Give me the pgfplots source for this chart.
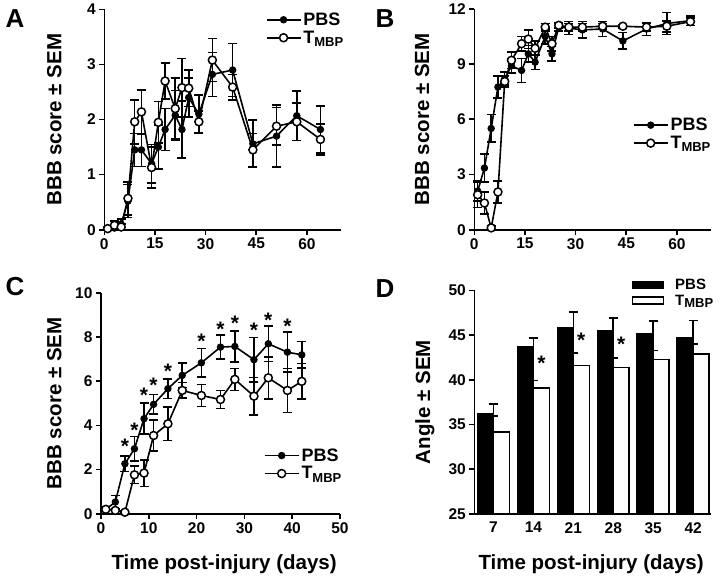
\documentclass[border=0pt]{standalone}
\usepackage{fontspec}
\setmainfont{Liberation Sans}
\usepackage{pgfplots}
\pgfplotsset{compat=1.18}

\newcommand{\tmbp}{T\raisebox{-0.35ex}{\fontsize{13}{13}\selectfont MBP}}
\newcommand{\labfont}{\fontsize{20.5}{21}\selectfont\bfseries}

\pgfplotsset{
  panel/.style={
    scale only axis,
    axis lines=left,
    axis line style={-, line width=1.6pt},
    tick align=outside,
    major tick length=5pt,
    every tick/.style={line width=1.6pt, black},
    tick label style={font=\fontsize{15.5}{15.5}\selectfont\bfseries},
    /pgf/number format/assume math mode=true,
    every axis y label/.style={at={(axis description cs:-0.21,0.5)}, rotate=90, anchor=center, font=\labfont},
    legend style={draw=none, fill=none, font=\fontsize{18}{21}\selectfont\bfseries, inner sep=0pt, row sep=0pt},
    legend cell align=left,
    legend image code/.code={\draw[##1, mark repeat=2, mark phase=2] plot coordinates {(0pt,0pt) (17pt,0pt) (34pt,0pt)};},
    clip=false,
  },
  errs/.style={
    error bars/y dir=both, error bars/y explicit,
    error bars/error bar style={line width=1.6pt, black},
    error bars/error mark options={rotate=90, mark size=4.5pt, line width=1.6pt, black},
  },
  pbs/.style={black, line width=1.6pt, mark=*, mark size=3.2pt, mark options={solid, fill=black, line width=1pt}, errs},
  tm/.style={black, line width=1.6pt, mark=*, mark size=4pt, mark options={solid, fill=white, line width=1.5pt}, errs},
  stars/.style={draw=none, mark=none, forget plot, nodes near coords={*},
    every node near coord/.append style={font=\fontsize{21}{21}\selectfont\bfseries, anchor=center, yshift=-3.5pt, inner sep=0pt}},
}

\begin{document}
\begin{tikzpicture}[x=1pt,y=1pt]
\path (0,0) rectangle (720,575);

% Panel A
\begin{axis}[panel, at={(104.3pt,345.7pt)}, anchor=south west,
  width=236.4pt, height=220.3pt, xmin=0, xmax=70, ymin=0, ymax=4,
  xtick={0,15,30,45,60}, ytick={0,1,2,3,4},
  ylabel={BBB score ± SEM},
  every axis y label/.append style={at={(axis description cs:-0.211,0.5)}},
  legend style={at={(1.02,0.995)}, anchor=north east}]
\addplot[pbs] coordinates {
(1,0.03) +- (0,0.03) (3,0.03) +- (0,0.03) (5,0.1) +- (0,0.1) (7,0.52) +- (0,0.3)
(9,1.45) +- (0,0.3) (11,1.45) +- (0,0.3) (14,1.2) +- (0,0.35) (16,1.5) +- (0,0.4)
(18,1.82) +- (0,0.38) (21,2.08) +- (0,0.45) (23,1.82) +- (0,0.52) (25,2.4) +- (0,0.35)
(28,2.1) +- (0,0.35) (32,2.82) +- (0,0.4) (38,2.9) +- (0,0.48) (44,1.56) +- (0,0.43)
(51,1.7) +- (0,0.56) (57,2.07) +- (0,0.45) (64,1.82) +- (0,0.43)};
\addplot[tm] coordinates {
(1,0.02) +- (0,0.02) (3,0.08) +- (0,0.08) (5,0.05) +- (0,0.05) (7,0.57) +- (0,0.3)
(9,1.96) +- (0,0.4) (11,2.14) +- (0,0.4) (14,1.13) +- (0,0.37) (16,1.95) +- (0,0.38)
(18,2.7) +- (0,0.33) (21,2.2) +- (0,0.55) (23,2.58) +- (0,0.53) (25,2.57) +- (0,0.33)
(28,1.96) +- (0,0.2) (32,3.08) +- (0,0.39) (38,2.59) +- (0,0.23) (44,1.45) +- (0,0.3)
(51,1.88) +- (0,0.34) (57,1.96) +- (0,0.34) (64,1.64) +- (0,0.28)};
\legend{PBS, \tmbp}
\end{axis}

% Panel B
\begin{axis}[panel, at={(474.3pt,345.7pt)}, anchor=south west,
  width=236.4pt, height=221pt, xmin=0, xmax=70, ymin=0, ymax=12,
  xtick={0,15,30,45,60}, ytick={0,3,6,9,12},
  ylabel={BBB score ± SEM},
  every axis y label/.append style={at={(axis description cs:-0.221,0.5)}},
  legend style={at={(1.008,0.515)}, anchor=north east}]
\addplot[pbs] coordinates {
(1,2.1) +- (0,0.55) (3,3.35) +- (0,0.75) (5,5.5) +- (0,0.75) (7,7.75) +- (0,0.6)
(9,8.2) +- (0,0.35) (11,8.9) +- (0,0.4) (14,8.65) +- (0,0.65) (16,9.55) +- (0,0.45)
(18,9.1) +- (0,0.4) (21,10.5) +- (0,0.4) (23,9.55) +- (0,0.4) (25,11.0) +- (0,0.2)
(28,10.95) +- (0,0.35) (32,10.85) +- (0,0.45) (38,10.9) +- (0,0.4) (44,10.25) +- (0,0.45)
(51,10.9) +- (0,0.35) (57,11.2) +- (0,0.6) (64,11.35) +- (0,0.25)};
\addplot[tm] coordinates {
(1,1.9) +- (0,0.7) (3,1.45) +- (0,0.6) (5,0.1) +- (0,0.1) (7,2.05) +- (0,0.6)
(9,8.05) +- (0,0.3) (11,9.2) +- (0,0.45) (14,10.1) +- (0,0.4) (16,10.35) +- (0,0.5)
(18,9.85) +- (0,0.4) (21,11.0) +- (0,0.2) (23,10.1) +- (0,0.4) (25,11.1) +- (0,0.15)
(28,11.0) +- (0,0.2) (32,11.0) +- (0,0.2) (38,11.05) +- (0,0.15) (44,11.05) +- (0,0.1)
(51,11.0) +- (0,0.2) (57,11.05) +- (0,0.3) (64,11.3) +- (0,0.2)};
\legend{PBS, \tmbp}
\end{axis}

% Panel C
\begin{axis}[panel, at={(101pt,61.7pt)}, anchor=south west,
  width=239pt, height=221pt, xmin=0, xmax=50, ymin=0, ymax=10,
  xtick={0,10,20,30,40,50}, ytick={0,2,4,6,8,10},
  ylabel={BBB score ± SEM},
  every axis y label/.append style={at={(axis description cs:-0.195,0.5)}},
  xlabel={Time post-injury (days)},
  every axis x label/.style={at={(axis description cs:0.515,0)}, anchor=base, yshift=-55.7pt, font=\labfont},
  legend style={at={(1.015,0.305)}, anchor=north east}]
\addplot[pbs] coordinates {
(1,0.2) +- (0,0.05) (3,0.53) +- (0,0.3) (5,2.26) +- (0,0.35) (7,2.94) +- (0,0.55)
(9,4.3) +- (0,0.7) (11,4.95) +- (0,0.45) (14,5.66) +- (0,0.45) (17,6.26) +- (0,0.55)
(21,6.83) +- (0,0.65) (25,7.54) +- (0,0.55) (28,7.57) +- (0,0.7) (32,6.97) +- (0,1.0)
(35,7.69) +- (0,0.8) (39,7.31) +- (0,0.9) (42,7.19) +- (0,0.6)};
\addplot[tm] coordinates {
(1,0.2) +- (0,0.05) (3,0.15) +- (0,0.05) (5,0.07) +- (0,0.05) (7,1.76) +- (0,0.4)
(9,1.84) +- (0,0.6) (11,3.54) +- (0,0.7) (14,4.07) +- (0,0.75) (17,5.58) +- (0,0.35)
(21,5.35) +- (0,0.5) (25,5.17) +- (0,0.4) (28,6.08) +- (0,0.5) (32,5.32) +- (0,0.85)
(35,6.15) +- (0,0.95) (39,5.58) +- (0,1.0) (42,5.99) +- (0,0.8)};
\addplot[stars] coordinates {
(5,3.19) (7,3.92) (9,5.53) (11,5.99) (14,6.59) (21,7.95) (25,8.52) (28,8.79) (32,8.44) (35,8.93) (39,8.62)};
\legend{PBS, \tmbp}
\end{axis}

% Panel D
\begin{axis}[panel, clip=true, at={(474.3pt,61.7pt)}, anchor=south west,
  width=236.4pt, height=223.3pt, xmin=-0.48, xmax=5.44, ymin=25, ymax=50,
  xtick={0,1,2,3,4,5}, xticklabels={7,14,21,28,35,42}, ytick={25,30,35,40,45,50},
  xtick style={draw=none},
  ylabel={Angle ± SEM},
  every axis y label/.append style={at={(axis description cs:-0.209,0.5)}},
  xlabel={Time post-injury (days)},
  every axis x label/.style={at={(axis description cs:0.494,0)}, anchor=base, yshift=-55.7pt, font=\labfont},
  legend image code/.code={\draw[#1, line width=1.5pt] (0pt,-3.5pt) rectangle (31pt,3.5pt);},
  legend style={at={(1.02,1.062)}, anchor=north east, font=\fontsize{15}{18}\selectfont\bfseries}]
\addplot[ybar, bar width=0.4, bar shift=-0.2, fill=black, draw=black, line width=1.5pt,
  error bars/y dir=plus, error bars/y explicit,
  error bars/error bar style={line width=1.6pt, black},
  error bars/error mark options={rotate=90, mark size=4.5pt, line width=1.6pt, black}]
coordinates {(0,36.2) +- (0,1.1) (1,43.65) +- (0,1.05) (2,45.8) +- (0,1.8) (3,45.45) +- (0,1.45) (4,45.1) +- (0,1.47) (5,44.7) +- (0,1.95)};
\addplot[ybar, bar width=0.4, bar shift=0.2, fill=white, draw=black, line width=1.5pt,
  error bars/y dir=plus, error bars/y explicit,
  error bars/error bar style={line width=1.6pt, black},
  error bars/error mark options={rotate=90, mark size=4.5pt, line width=1.6pt, black}]
coordinates {(0,34.14) +- (0,1.8) (1,39.1) +- (0,0.8) (2,41.6) +- (0,1.4) (3,41.35) +- (0,1.1) (4,42.28) +- (0,1.0) (5,42.9) +- (0,1.1)};
\addplot[stars] coordinates {(1.2,42.2) (2.2,44.8) (3.2,44.4)};
\legend{\hspace{9pt}PBS, \hspace{9pt}\tmbp}
\end{axis}

\node[font=\fontsize{26}{26}\selectfont\bfseries, anchor=base west] at (2,548) {A};
\node[font=\fontsize{26}{26}\selectfont\bfseries, anchor=base west] at (372,548) {B};
\node[font=\fontsize{26}{26}\selectfont\bfseries, anchor=base west] at (2,280) {C};
\node[font=\fontsize{26}{26}\selectfont\bfseries, anchor=base west] at (372,278) {D};
\end{tikzpicture}
\end{document}
